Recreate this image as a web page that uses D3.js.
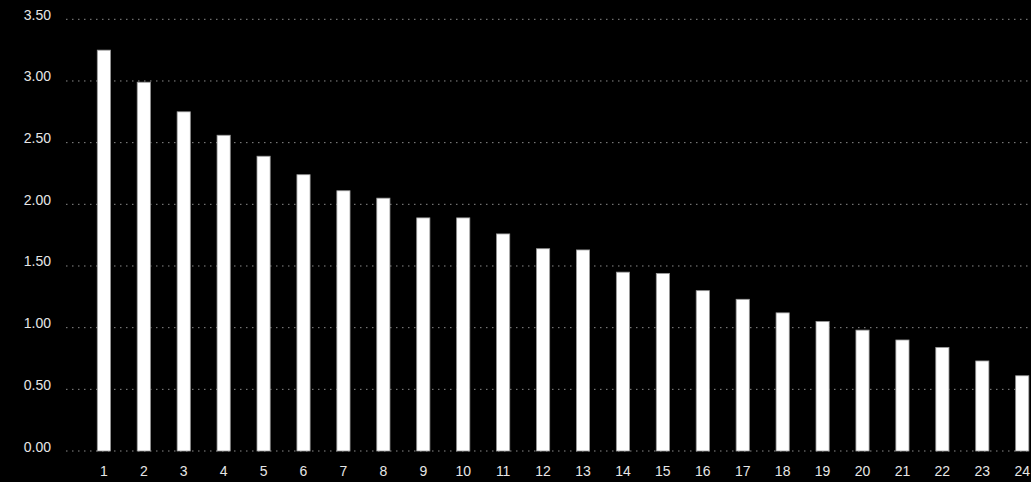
<!DOCTYPE html>
<html>
<head>
<meta charset="utf-8">
<script src="https://cdn.jsdelivr.net/npm/d3@7"></script>
<style>
  body { margin: 0; background: #000; }
  svg { display: block; }
</style>
</head>
<body>
<script>
const categories = ["1","2","3","4","5","6","7","8","9","10","11","12","13","14","15","16","17","18","19","20","21","22","23","24"];
const values = [3.25, 2.99, 2.75, 2.56, 2.39, 2.24, 2.11, 2.05, 1.89, 1.89, 1.76, 1.64, 1.63, 1.45, 1.44, 1.30, 1.23, 1.12, 1.05, 0.98, 0.90, 0.84, 0.73, 0.61];
const yTicks = [0, 0.5, 1, 1.5, 2, 2.5, 3, 3.5];

const width = 1031;
const height = 482;
const svg = d3.select("body").append("svg").attr("width", width).attr("height", height);

const xScale = d3.scaleBand().domain(categories).range([83.9, 1042.2]).paddingInner(0.67).paddingOuter(0.335);
const yScale = d3.scaleLinear().domain([0, 3.5]).range([451, 19.3]);

// dotted grid lines
svg.append("g")
  .selectAll("line")
  .data(yTicks)
  .enter()
  .append("line")
  .attr("x1", 66)
  .attr("x2", width)
  .attr("y1", d => yScale(d))
  .attr("y2", d => yScale(d))
  .attr("stroke", "#8a8a8a")
  .attr("stroke-width", 1)
  .attr("stroke-dasharray", "1.5,4.5");

// y labels
svg.append("g")
  .selectAll("text")
  .data(yTicks)
  .enter()
  .append("text")
  .attr("x", 51)
  .attr("y", d => yScale(d) + 0.5)
  .attr("text-anchor", "end")
  .attr("font-family", "Liberation Sans, Arial, sans-serif")
  .attr("font-size", 14)
  .attr("fill", "#e6e6e6")
  .text(d => d3.format(".2f")(d));

// bars
svg.append("g")
  .selectAll("rect")
  .data(values)
  .enter()
  .append("rect")
  .attr("x", (d, i) => xScale(categories[i]))
  .attr("y", d => yScale(d))
  .attr("width", xScale.bandwidth())
  .attr("height", d => yScale(0) - yScale(d))
  .attr("fill", "#fff")
  .attr("stroke", "#999")
  .attr("stroke-width", 0.8);

// x labels
svg.append("g")
  .selectAll("text")
  .data(categories)
  .enter()
  .append("text")
  .attr("x", d => xScale(d) + xScale.bandwidth() / 2)
  .attr("y", 476)
  .attr("text-anchor", "middle")
  .attr("font-family", "Liberation Sans, Arial, sans-serif")
  .attr("font-size", 14)
  .attr("fill", "#e6e6e6")
  .text(d => d);
</script>
</body>
</html>
